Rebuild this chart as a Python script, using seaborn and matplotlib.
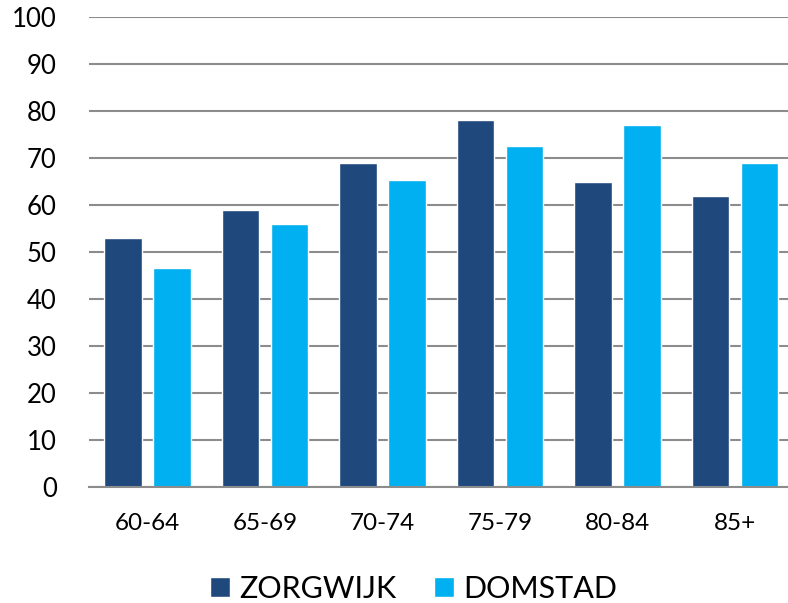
import matplotlib
matplotlib.use("Agg")
from matplotlib import pyplot as plt
import seaborn as sns
import pandas as pd

# data
age_groups = ['60-64', '65-69', '70-74', '75-79', '80-84', '85+']
zorgwijk = [53, 59, 69, 78, 65, 62]
domstad = [46.7, 56, 65.3, 72.6, 77, 69]
series = ['ZORGWIJK', 'DOMSTAD']
colors = ['#1F497D', '#00B0F0']

df = pd.DataFrame({
    'group': age_groups * 2,
    'value': zorgwijk + domstad,
    'series': [series[0]] * len(age_groups) + [series[1]] * len(age_groups),
})

sns.set_style('white')
plt.rcParams['font.family'] = ['Lato', 'DejaVu Sans']
plt.rcParams['text.color'] = 'black'

fig = plt.figure(figsize=(7.88, 6.03), dpi=100)
W, H = 788, 603
ax = fig.add_axes([88.75 / W, (H - 487) / H, 705 / W, 470 / H])

sns.barplot(data=df, x='group', y='value', hue='series', palette=colors,
            width=0.834, gap=0.225, ax=ax, saturation=1, legend=True)

ax.set_ylim(0, 100)
ax.set_xlim(-0.5, 5.5)
ax.set_yticks(range(0, 101, 10))
ax.yaxis.grid(True, color='#8C8C8C', linewidth=1.5)
ax.set_axisbelow(True)
for s in ['top', 'right', 'left']:
    ax.spines[s].set_visible(False)
ax.spines['bottom'].set_color('#8C8C8C')
ax.spines['bottom'].set_linewidth(1.5)
ax.set_xlabel('')
ax.set_ylabel('')
ax.tick_params(axis='y', length=0, pad=23, labelsize=18.5, labelcolor='black')
ax.tick_params(axis='x', length=0, pad=19, labelsize=17.5, labelcolor='black')

handles, labels = ax.get_legend_handles_labels()
ax.get_legend().remove()
leg = fig.legend(handles, labels, loc='center', bbox_to_anchor=(413.5 / W, (H - 588.5) / H),
                 ncol=2, frameon=False, handlelength=0.65, handleheight=0.65,
                 handletextpad=0.3, columnspacing=1.25,
                 prop={'size': 22})

fig.savefig('out.png', dpi=100)
